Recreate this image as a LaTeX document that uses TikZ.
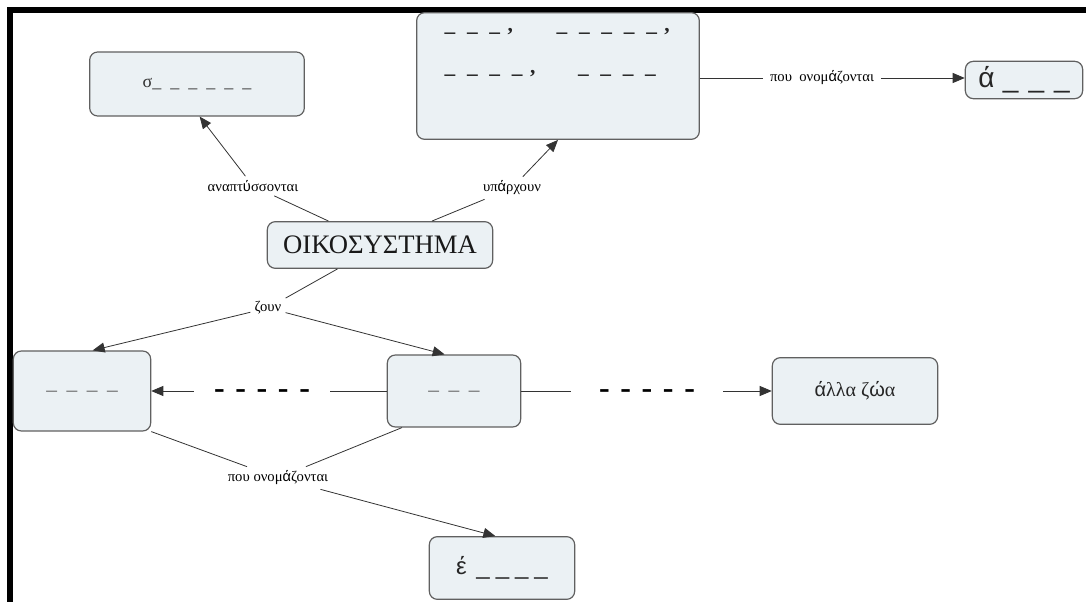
\documentclass[tikz,border=0pt]{standalone}
\usepackage{fontspec}
\setmainfont{Liberation Serif}
\newfontfamily\accfont{Liberation Sans}
\usetikzlibrary{arrows.meta}

\newcommand{\acc}[1]{{\accfont #1}}
\newcommand{\dashgap}{\hspace{8pt}}
% a row of #1 blanks, #2 apart
\newcommand{\blanks}[2]{\_\foreach \i in {2,...,#1}{\hspace{#2}\_}}
\definecolor{boxfill}{HTML}{EBF1F4}
\definecolor{boxline}{HTML}{606060}

\begin{document}
\begin{tikzpicture}[
  x=0.75pt, y=-0.75pt,
  box/.style={
    draw=boxline,
    fill=boxfill,
    rounded corners=6pt,
    line width=0.9pt,
    align=center,
    inner sep=0pt,
    text=black!70
  },
  link/.style={font=\fontsize{11}{13}\selectfont, inner sep=3pt},
  dashlink/.style={font=\bfseries\fontsize{24}{24}\selectfont, inner ysep=2pt},
  line/.style={line width=0.6pt, draw=black!80},
  arr/.style={-{Triangle[length=9pt,width=7.5pt]}, line width=0.6pt, draw=black!80},
]
\useasboundingbox (0,0) rectangle (1086,602);

% Page frame.
\draw[line width=3.8pt] (10,602) -- (10,10) -- (1086,10);

% Top row.
\node[box, minimum width=161pt, minimum height=48pt, font=\fontsize{13.5}{15}\selectfont, text=black!80] (sbox) at (197,84)
  {σ\blanks{6}{0.5em}};
\node[box, minimum width=212pt, minimum height=95pt, font=\bfseries\fontsize{16}{31.5}\selectfont, text=black!85] (group) at (558,76)
  {\parbox[c][95pt][t]{170pt}{\rule{0pt}{14.3pt}\makebox[84pt][l]{\blanks{3}{0.55em}\hspace{0.35em},}\blanks{5}{0.55em}\hspace{0.35em},\\
   \makebox[100pt][l]{\blanks{4}{0.55em}\hspace{0.35em},}\blanks{4}{0.55em}}};
\node[box, minimum width=88pt, minimum height=28pt, font=\accfont\fontsize{21}{22}\selectfont, text=black!85] (abox) at (1024,80)
  {ά\hspace{0.3em}\blanks{3}{0.36em}};

% Centre.
\node[box, minimum width=169pt, minimum height=35pt, font=\fontsize{20}{22}\selectfont, text=black!90] (oiko) at (380,245) {ΟΙΚΟΣΥΣΤΗΜΑ};

% Middle row.
\node[box, minimum width=103pt, minimum height=60pt, font=\fontsize{16}{18}\selectfont, text=black!60] (lbox) at (82,391) {\blanks{4}{0.45em}};
\node[box, minimum width=100pt, minimum height=54pt, font=\fontsize{16}{18}\selectfont, text=black!60] (mbox) at (454,391) {\blanks{3}{0.45em}};
\node[box, minimum width=124pt, minimum height=50pt, font=\fontsize{15}{17}\selectfont, text=black!85] (zoa) at (855,391) {\acc{ά}λλα ζ\acc{ώ}α};

% Bottom.
\node[box, minimum width=109pt, minimum height=47pt, font=\accfont\fontsize{18}{20}\selectfont, text=black!85] (ebox) at (502,568)
  {έ\hspace{0.4em}\blanks{4}{0.25em}};

% Link labels.
\node[link] (grow) at (253,186) {αναπτ\acc{ύ}σσονται};
\node[link] (exist) at (512,188) {υπ\acc{ά}ρχουν};
\node[link, inner xsep=5pt] (named1) at (822,78) {που\ \ ονομ\acc{ά}ζονται};
\node[link] (live) at (268,308) {ζουν};
\node[link] (named2) at (278,478) {που ονομ\acc{ά}ζονται};
\node[dashlink, inner xsep=15pt] (dashL) at (262,394) {-\dashgap-\dashgap-\dashgap-\dashgap-};
\node[dashlink, inner xsep=21pt] (dashR) at (647,394) {-\dashgap-\dashgap-\dashgap-\dashgap-};

% Connectors.
\draw[line] (grow) -- (oiko);
\draw[arr] (grow) -- ([xshift=2pt]sbox.south);
\draw[line] ([xshift=39pt]oiko.north) -- (exist);
\draw[arr] (exist) -- (group.south);
\draw[line] (named1 -| group.east) -- (named1);
\draw[arr] (named1) -- (named1 -| abox.west);
\draw[line] (oiko) -- (live);
\draw[arr] (live) -- ([xshift=8pt]lbox.north);
\draw[arr] (live) -- ([xshift=-7pt]mbox.north);
\draw[line] (mbox) -- (mbox -| dashL.east);
\draw[arr] (mbox -| dashL.west) -- (mbox -| lbox.east);
\draw[line] (mbox) -- (mbox -| dashR.west);
\draw[arr] (mbox -| dashR.east) -- (mbox -| zoa.west);
\draw[line] (lbox.south east) -- (named2);
\draw[line] ([xshift=-39pt]mbox.south) -- (named2);
\draw[arr] (named2) -- ([xshift=-5pt]ebox.north);

\end{tikzpicture}
\end{document}
